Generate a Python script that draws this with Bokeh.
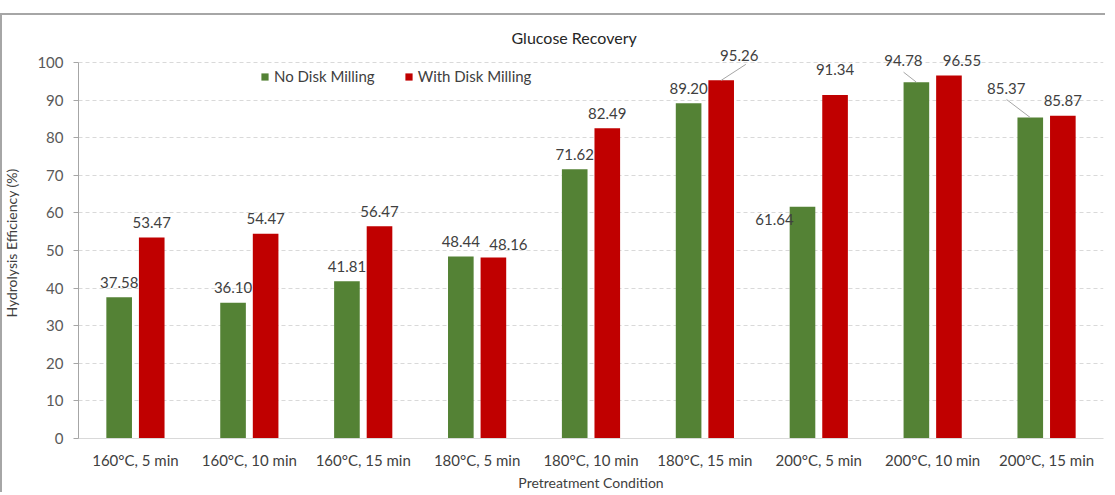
from bokeh.plotting import figure
from bokeh.models import (FactorRange, Range1d, ColumnDataSource, FixedTicker,
                          Legend, LegendItem, Title)
from bokeh.transform import dodge
from bokeh.core.properties import value
from bokeh.embed import file_html
from bokeh.resources import INLINE

# ---------------- data ----------------
categories = ["160°C, 5 min", "160°C, 10 min", "160°C, 15 min",
              "180°C, 5 min", "180°C, 10 min", "180°C, 15 min",
              "200°C, 5 min", "200°C, 10 min", "200°C, 15 min"]
no_disk = [37.58, 36.10, 41.81, 48.44, 71.62, 89.20, 61.64, 94.78, 85.37]
with_disk = [53.47, 54.47, 56.47, 48.16, 82.49, 95.26, 91.34, 96.55, 85.87]
series_names = ["No Disk Milling", "With Disk Milling"]
y_ticks = [0, 10, 20, 30, 40, 50, 60, 70, 80, 90, 100]

# ---------------- styling / label placement (pixels) ----------------
FONT = "Lato"
GREEN = "#548235"
RED = "#C00000"
TXT = "#404040"
OFF = 0.143      # dodge offset (category units)
BW = 0.225       # bar width (category units)
PX_CAT = 115.5   # approx pixels per category
PX_Y = 3.76      # approx pixels per y unit

lab_dx_no = [0, 0, 0, 0, 0, 0, -28, -13, -24]
lab_dy_no = [15, 15, 15, 15, 15, 15, -13, 22, 29]
lab_dx_with = [0, 0, 0, 15, 0, 18, 0, 13, 0]
lab_dy_with = [15, 15, 15, 13, 15, 25, 26, 15, 15]

# leader lines: (series, index, end dx px, end dy px) from bar top centre
leaders = [("with", 5, 25, 16), ("no", 7, -13, 10), ("no", 8, -24, 18)]

frame_css = {
    "background-image": "linear-gradient(#a6a6a6,#a6a6a6), linear-gradient(#a6a6a6,#a6a6a6)",
    "background-size": "100% 2px, 2px 100%",
    "background-position": "0 13px, 0 13px",
    "background-repeat": "no-repeat",
}

p = figure(x_range=FactorRange(*categories), y_range=Range1d(0, 104),
           width=1105, height=492, output_backend="svg", toolbar_location=None,
           min_border_left=64, min_border_right=2, min_border_top=47,
           min_border_bottom=54, styles=frame_css)
p.outline_line_color = None
p.background_fill_color = "white"
p.border_fill_color = None

src = ColumnDataSource(dict(
    cat=categories, no_disk=no_disk, with_disk=with_disk,
    lab_no=[f"{v:.2f}" for v in no_disk],
    lab_with=[f"{v:.2f}" for v in with_disk],
    dx_no=lab_dx_no, dy_no=[-d for d in lab_dy_no],
    dx_with=lab_dx_with, dy_with=[-d for d in lab_dy_with],
))

r_no = p.vbar(x=dodge("cat", -OFF, range=p.x_range), top="no_disk", width=BW,
              source=src, fill_color=GREEN, line_color=None)
r_with = p.vbar(x=dodge("cat", OFF, range=p.x_range), top="with_disk", width=BW,
                source=src, fill_color=RED, line_color=None)

# leader lines
x0, y0, x1, y1 = [], [], [], []
for s, i, dx, dy in leaders:
    vals = no_disk if s == "no" else with_disk
    off = -OFF if s == "no" else OFF
    xc = i + 0.5 + off
    x0.append(xc)
    y0.append(vals[i])
    x1.append(xc + dx / PX_CAT)
    y1.append(vals[i] + dy / PX_Y)
p.segment(x0=x0, y0=y0, x1=x1, y1=y1, line_color="#a6a6a6", line_width=1)

p.text(x=dodge("cat", -OFF, range=p.x_range), y="no_disk", text="lab_no",
       x_offset="dx_no", y_offset="dy_no", source=src,
       text_align="center", text_baseline="middle",
       text_font=value(FONT), text_font_size="15px", text_color=TXT)
p.text(x=dodge("cat", OFF, range=p.x_range), y="with_disk", text="lab_with",
       x_offset="dx_with", y_offset="dy_with", source=src,
       text_align="center", text_baseline="middle",
       text_font=value(FONT), text_font_size="15px", text_color=TXT)

# title
p.title.text = "Glucose Recovery"
p.title.align = "left"
p.title.offset = 433
p.title.standoff = 2
p.title.text_font = FONT
p.title.text_font_size = "16px"
p.title.text_font_style = "normal"
p.title.text_color = "#262626"

# axes
p.yaxis.ticker = FixedTicker(ticks=y_ticks)
p.yaxis.bounds = (0, 100)
p.yaxis.axis_line_color = "#a6a6a6"
p.yaxis.major_tick_line_color = "#a6a6a6"
p.yaxis.major_tick_out = 5
p.yaxis.major_tick_in = 0
p.yaxis.minor_tick_line_color = None
p.yaxis.major_label_text_font = FONT
p.yaxis.major_label_text_font_size = "15px"
p.yaxis.major_label_text_color = "#595959"
p.yaxis.major_label_standoff = 10
p.yaxis.axis_label = "Hydrolysis Efficiency (%)"
p.yaxis.axis_label_text_font = FONT
p.yaxis.axis_label_text_font_size = "14px"
p.yaxis.axis_label_text_font_style = "normal"
p.yaxis.axis_label_text_color = "#404040"
p.yaxis.axis_label_standoff = 14

p.xaxis.axis_line_color = "#d9d9d9"
p.xaxis.major_tick_line_color = None
p.xaxis.minor_tick_line_color = None
p.xaxis.major_tick_out = 0
p.xaxis.major_tick_in = 0
p.xaxis.major_label_text_font = FONT
p.xaxis.major_label_text_font_size = "15px"
p.xaxis.major_label_text_color = "#404040"
p.xaxis.major_label_standoff = 12

x_title = Title(text="Pretreatment Condition", align="center", standoff=0,
                text_font=FONT, text_font_size="14px", text_font_style="normal",
                text_color="#404040")
p.add_layout(x_title, "below")

p.xgrid.grid_line_color = None
p.ygrid.ticker = FixedTicker(ticks=y_ticks)
p.ygrid.grid_line_color = "#d9d9d9"
p.ygrid.grid_line_dash = "4 3"

legend = Legend(items=[LegendItem(label=series_names[0], renderers=[r_no]),
                       LegendItem(label=series_names[1], renderers=[r_with])],
                orientation="horizontal", location=(182, 353))
legend.glyph_width = 9
legend.glyph_height = 9
legend.label_standoff = 5
legend.spacing = 29
legend.padding = 0
legend.margin = 0
legend.border_line_color = None
legend.background_fill_alpha = 0
legend.label_text_font = FONT
legend.label_text_font_size = "15px"
legend.label_text_color = TXT
p.add_layout(legend)

open("out.html", "w").write(file_html(p, INLINE))
